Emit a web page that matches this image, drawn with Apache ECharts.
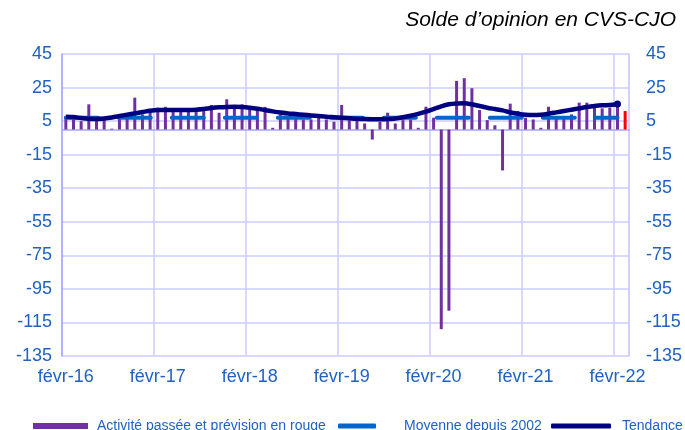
<!DOCTYPE html>
<html>
<head>
<meta charset="utf-8">
<script src="https://cdn.jsdelivr.net/npm/echarts@6/dist/echarts.min.js"></script>
<style>
  html, body { margin: 0; padding: 0; background: #fff; }
  #chart { width: 685px; height: 430px; }
</style>
</head>
<body>
<div id="chart"></div>
<script>
// mois (févr-16 -> mars-22)
const months = [
  'févr-16', 'mars-16', 'avr-16', 'mai-16', 'juin-16', 'juil-16', 'août-16', 'sept-16', 'oct-16', 'nov-16', 'déc-16',
  'janv-17', 'févr-17', 'mars-17', 'avr-17', 'mai-17', 'juin-17', 'juil-17', 'août-17', 'sept-17', 'oct-17', 'nov-17', 'déc-17',
  'janv-18', 'févr-18', 'mars-18', 'avr-18', 'mai-18', 'juin-18', 'juil-18', 'août-18', 'sept-18', 'oct-18', 'nov-18', 'déc-18',
  'janv-19', 'févr-19', 'mars-19', 'avr-19', 'mai-19', 'juin-19', 'juil-19', 'août-19', 'sept-19', 'oct-19', 'nov-19', 'déc-19',
  'janv-20', 'févr-20', 'mars-20', 'avr-20', 'mai-20', 'juin-20', 'juil-20', 'août-20', 'sept-20', 'oct-20', 'nov-20', 'déc-20',
  'janv-21', 'févr-21', 'mars-21', 'avr-21', 'mai-21', 'juin-21', 'juil-21', 'août-21', 'sept-21', 'oct-21', 'nov-21', 'déc-21',
  'janv-22', 'févr-22', 'mars-22'
]

// activité passée (dernier point = prévision en rouge)
const activite = [
  8, 6, 5, 15, 6, 6, 0.5, 7, 8, 19, 9,
  11, 13, 13.5, 11, 11, 11, 11, 11, 14.6, 10, 18, 13,
  15, 12.5, 12.5, 13.5, 1, 9, 8, 7.5, 6, 6, 7, 6,
  4.6, 14.6, 5.5, 5.5, 3.6, -6, 4.6, 10, 3.6, 5.6, 6, 1,
  13.6, 7, -119, -108, 29, 30.6, 24.6, 11.6, 5.6, 2.5, -24.4, 15.4,
  11, 7, 6, 1, 13.6, 8, 8, 9, 16, 16, 15, 12.6,
  13, 16.6, 11
]

// tendance (jusqu'à févr-22)
const tendance = [
  7.6, 7.4, 6.8, 6.4, 6.3, 6.6, 7.2, 8, 8.8, 9.6, 10.4,
  11.2, 11.6, 11.6, 11.6, 11.6, 11.6, 11.8, 12.2, 12.8, 13.2, 13.4, 13.5,
  13.4, 13, 12.4, 11.6, 10.8, 10.1, 9.6, 9.2, 8.8, 8.4, 8, 7.6,
  7.3, 7, 6.7, 6.4, 6.2, 6.1, 6.1, 6.2, 6.6, 7.3, 8.2, 9.3,
  10.6, 12.2, 13.8, 15, 15.5, 15.6, 15, 14, 13, 12.2, 11.4, 10.2,
  9.4, 8.8, 8.6, 8.8, 9.4, 10.2, 11, 11.8, 12.6, 13.4, 14, 14.4,
  14.6, 15.2
]

// moyenne depuis 2002
const moyenne = 7

// axe vertical
const yMin = -135
const yMax = 45
const yStep = 20

const FONT = 'Liberation Sans, Arial, sans-serif'
const BLUE_TXT = '#1F62C4'
const nbPrev = 1

const barData = activite.map((v, i) => i >= activite.length - nbPrev
  ? { value: v, itemStyle: { color: '#FF0000' } }
  : v)
const moyData = tendance.map(() => moyenne)
const lastIdx = tendance.length - 1

const yearTick = (idx) => idx % 12 === 0

const legendBase = {
  orient: 'horizontal',
  top: 414,
  selectedMode: false,
  textStyle: { color: BLUE_TXT, fontSize: 14, fontFamily: FONT }
}

const option = {
  animation: false,
  backgroundColor: '#fff',
  title: {
    text: 'Solde d’opinion en CVS-CJO',
    right: 4,
    top: 5,
    textStyle: { fontSize: 21, fontStyle: 'italic', fontWeight: 'normal', color: '#000', fontFamily: FONT }
  },
  legend: [
    { ...legendBase, left: 28, data: ['Activité passée et prévision en rouge'], icon: 'rect', itemWidth: 55, itemHeight: 6,
      textStyle: { ...legendBase.textStyle, padding: [0, 0, 0, 4] } },
    { ...legendBase, left: 333, data: ['Moyenne depuis 2002'], icon: 'roundRect', itemWidth: 38, itemHeight: 5,
      textStyle: { ...legendBase.textStyle, padding: [0, 0, 0, 23] } },
    { ...legendBase, left: 546, data: ['Tendance'], icon: 'roundRect', itemWidth: 60, itemHeight: 5,
      textStyle: { ...legendBase.textStyle, padding: [0, 0, 0, 6] } }
  ],
  grid: { left: 62, right: 53, top: 54, bottom: 74, containLabel: false },
  xAxis: [
    {
      type: 'category',
      data: months,
      boundaryGap: true,
      position: 'bottom',
      axisLine: { show: false, onZero: false },
      axisTick: { show: false },
      axisLabel: { interval: yearTick, color: BLUE_TXT, fontSize: 18, fontFamily: FONT, margin: 12 },
      splitLine: { show: true, interval: yearTick, lineStyle: { color: '#CCCCFF', width: 1.5 } }
    },
    {
      type: 'category',
      data: months,
      boundaryGap: true,
      axisLine: { show: true, onZero: true, lineStyle: { color: '#A5A5FF', width: 1.5 } },
      axisTick: { show: false },
      axisLabel: { show: false },
      splitLine: { show: false }
    }
  ],
  yAxis: [
    {
      type: 'value',
      min: yMin, max: yMax, interval: yStep,
      axisLine: { show: true, lineStyle: { color: '#A5A5FF', width: 1.5 } },
      axisTick: { show: false },
      axisLabel: { color: BLUE_TXT, fontSize: 18, fontFamily: FONT, margin: 10 },
      splitLine: { show: true, lineStyle: { color: '#CCCCFF', width: 1.5 } }
    },
    {
      type: 'value',
      position: 'right',
      min: yMin, max: yMax, interval: yStep,
      axisLine: { show: true, lineStyle: { color: '#CCCCFF', width: 1.5 } },
      axisTick: { show: false },
      axisLabel: { color: BLUE_TXT, fontSize: 18, fontFamily: FONT, margin: 17 },
      splitLine: { show: false }
    }
  ],
  series: [
    {
      name: 'Activité passée et prévision en rouge',
      type: 'bar',
      data: barData,
      barWidth: 3,
      itemStyle: { color: '#7030A0' },
      z: 2
    },
    {
      name: 'Moyenne depuis 2002',
      type: 'line',
      data: moyData,
      symbol: 'none',
      itemStyle: { color: '#0066CC' },
      lineStyle: { color: '#0066CC', width: 4, type: [32, 21], cap: 'round' },
      z: 3
    },
    {
      name: 'Tendance',
      type: 'line',
      data: tendance,
      smooth: 0.3,
      symbol: 'circle',
      showAllSymbol: true,
      symbolSize: (v, p) => p.dataIndex === lastIdx ? 7 : 0,
      itemStyle: { color: '#000080' },
      lineStyle: { color: '#000080', width: 4.5 },
      z: 4
    }
  ]
}

const chart = echarts.init(document.getElementById('chart'))
chart.setOption(option)
window.addEventListener('resize', () => chart.resize())
</script>
</body>
</html>
